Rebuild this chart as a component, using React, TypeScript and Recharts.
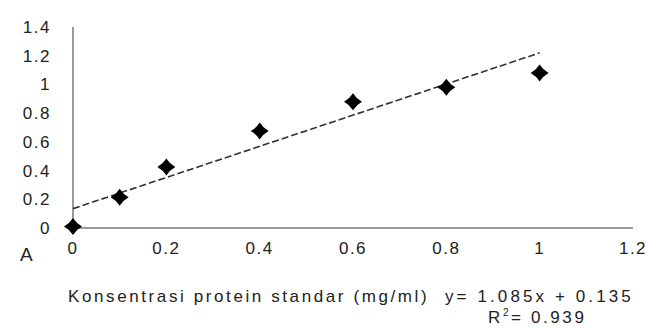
import React from 'react';
import { ScatterChart, Scatter, XAxis, YAxis } from 'recharts';

// standard curve readings (concentration mg/ml vs absorbance)
const concentrations = [0, 0.1, 0.2, 0.4, 0.6, 0.8, 1.0];
const absorbances = [0.01, 0.215, 0.425, 0.675, 0.88, 0.98, 1.08];

// linear trendline end points, y = 1.085x + 0.135
const trendX = [0, 1.0];
const trendY = [0.135, 1.22];

const xTicks = [0, 0.2, 0.4, 0.6, 0.8, 1, 1.2];
const yTicks = [0, 0.2, 0.4, 0.6, 0.8, 1, 1.2, 1.4];

const xTitle = 'Konsentrasi protein standar (mg/ml)';
const equation = 'y= 1.085x + 0.135';
const rSquared = '0.939';

const points = concentrations.map((x, i) => ({ x, y: absorbances[i] }));
const trend = trendX.map((x, i) => ({ x, y: trendY[i] }));

const fmt = (v: number) => String(Number(v.toFixed(1)));

const FONT = '"Liberation Sans", Arial, sans-serif';
const tickStyle = { fill: '#222', fontSize: 17, fontFamily: FONT, letterSpacing: 1.5 };

const Diamond = (props: any) => {
  const { cx, cy } = props;
  if (cx == null || cy == null) return null;
  const w = 9;
  const h = 8.5;
  const c = 3.2;
  return (
    <path
      d={`M${cx},${cy - h} Q${cx + c},${cy - c} ${cx + w},${cy} Q${cx + c},${cy + c} ${cx},${cy + h} Q${cx - c},${cy + c} ${cx - w},${cy} Q${cx - c},${cy - c} ${cx},${cy - h}Z`}
      fill="#000"
    />
  );
};

const textStyle: React.CSSProperties = {
  position: 'absolute',
  fontSize: 17,
  color: '#222',
  whiteSpace: 'nowrap',
  lineHeight: '18px',
};

const App: React.FC = () => {
  return (
    <div style={{ position: 'absolute', left: 0, top: 0, width: 648, height: 329, background: '#fff', fontFamily: FONT }}>
      <ScatterChart width={648} height={329} margin={{ top: 27, right: 15, left: 0, bottom: 0 }}>
        <XAxis
          type="number"
          dataKey="x"
          domain={[0, 1.2]}
          ticks={xTicks}
          tickFormatter={fmt}
          tickLine={false}
          tickSize={0}
          tickMargin={14}
          axisLine={{ stroke: '#9a9a9a', strokeWidth: 2 }}
          tick={tickStyle}
          height={101}
          interval={0}
        />
        <YAxis
          type="number"
          dataKey="y"
          domain={[0, 1.4]}
          ticks={yTicks}
          tickFormatter={fmt}
          tickLine={false}
          tickSize={0}
          tickMargin={22}
          axisLine={{ stroke: '#9a9a9a', strokeWidth: 2 }}
          tick={tickStyle}
          width={73}
          interval={0}
        />
        <Scatter
          data={trend}
          line={{ stroke: '#333', strokeWidth: 1.6, strokeDasharray: '7 3' }}
          shape={() => <g />}
          isAnimationActive={false}
        />
        <Scatter data={points} shape={<Diamond />} isAnimationActive={false} />
      </ScatterChart>
      <div style={{ ...textStyle, left: 20, top: 246, fontSize: 19 }}>A</div>
      <div style={{ ...textStyle, left: 68, top: 288, letterSpacing: 2.6 }}>{xTitle}</div>
      <div style={{ ...textStyle, left: 445, top: 288, letterSpacing: 3.1 }}>{equation}</div>
      <div style={{ ...textStyle, left: 488, top: 309, letterSpacing: 2.6 }}>
        R<sup style={{ fontSize: 10, lineHeight: 0 }}>2</sup>= {rSquared}
      </div>
    </div>
  );
};

export default App;
